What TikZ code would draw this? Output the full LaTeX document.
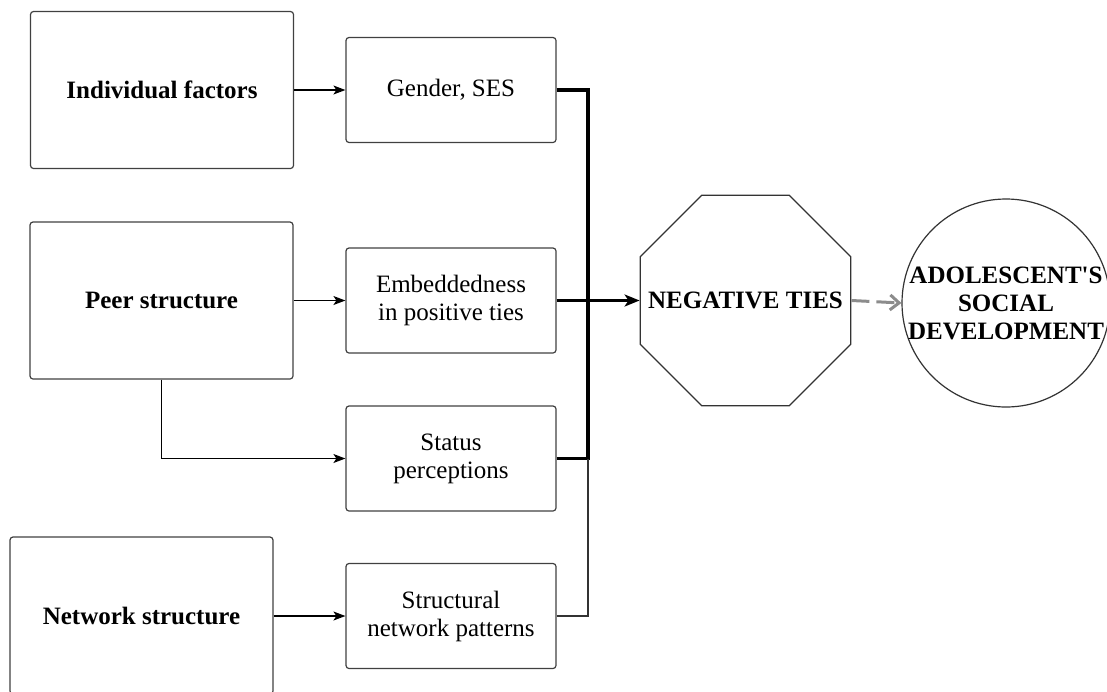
\documentclass[tikz,border=0pt]{standalone}
\usepackage{fontspec}
\setmainfont{Liberation Serif}
\usetikzlibrary{arrows.meta,shapes.geometric}
\begin{document}
\begin{tikzpicture}[x=1pt,y=-1pt,
  every node/.style={font=\fontsize{25}{28}\selectfont},
  bigbox/.style={draw=black!75, line width=1.2pt, rounded corners=3pt,
    minimum width=263pt, minimum height=157pt, inner sep=0pt,
    font=\fontsize{25}{28}\selectfont\bfseries},
  smallbox/.style={draw=black!75, line width=1.2pt, rounded corners=3pt,
    minimum width=210pt, minimum height=105pt, align=center, inner sep=0pt},
  thinarrow/.style={line width=1.2pt, -{Stealth[length=12pt,width=9pt,inset=3pt]}},
  thickline/.style={line width=3.5pt},
  thickarrow/.style={line width=3.5pt, -{Stealth[length=15pt,width=12pt,inset=4pt]}},
  medline/.style={line width=1.7pt, draw=black!80},
  bigfont/.style={font=\fontsize{25}{28}\selectfont\bfseries},
  dasharrow/.style={draw=black!45, line width=3pt, dash pattern=on 18pt off 7pt,
    -{Straight Barb[length=9pt,width=15pt,line width=3pt]}}
]
\useasboundingbox (0,0) rectangle (1107,691);

\node[bigbox] (ind) at (162,90) {Individual factors};
\node[bigbox] (peer) at (161.5,300.5) {Peer structure};
\node[bigbox] (net) at (141.5,615.5) {Network structure};

\node[smallbox] (gender) at (451,90) {Gender, SES};
\node[smallbox] (emb) at (451,300.5) {Embeddedness\\in positive ties};
\node[smallbox] (status) at (451,458.5) {Status\\perceptions};
\node[smallbox] (struct) at (451,616) {Structural\\network patterns};

\node[regular polygon, regular polygon sides=8, minimum size=228pt, inner sep=0pt,
  draw=black!80, line width=1.2pt,
  label={[bigfont]center:NEGATIVE TIES}] (neg) at (745.5,300.5) {};

\node[circle, minimum size=208pt, inner sep=0pt, draw=black!80, line width=1.2pt,
  label={[bigfont, align=center]center:ADOLESCENT\textquotesingle S\\SOCIAL\\DEVELOPMENT}] (adol) at (1006,303) {};

\coordinate (j) at (588,300.5);

\draw[thinarrow] (ind.east) -- (gender.west);
\draw[thinarrow] (peer.east) -- (emb.west);
\draw[thinarrow] (peer.south) |- (status.west);
\draw[thinarrow] (net.east |- struct.west) -- (struct.west);

\draw[thickline] (gender.east) -| (j);
\draw[thickline] (status.east) -| (j);
\draw[medline] (struct.east) -| (status.east -| j);
\draw[thickarrow] (emb.east) -- (neg.west);

\draw[dasharrow] (neg.east) -- (adol.west);
\end{tikzpicture}
\end{document}
